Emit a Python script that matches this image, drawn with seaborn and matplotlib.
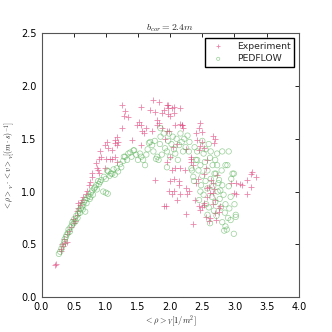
import matplotlib
matplotlib.use('Agg')
import matplotlib.pyplot as plt
import seaborn as sns
import pandas as pd

# Experiment points (density, specific flow)
exp_x = [0.21, 0.23, 0.30, 0.31, 0.33, 0.32, 0.37, 0.40, 0.35, 0.40, 0.43, 0.46, 0.50, 0.52, 0.49,
         0.55, 0.55, 0.57, 0.60, 0.57, 0.62, 0.63, 0.65, 0.69, 0.71, 0.74, 0.76, 0.78, 0.79, 0.86,
         0.88, 0.89, 0.84, 0.89, 0.93, 0.91, 0.99, 1.00, 1.06, 1.09, 1.15, 1.18, 1.02, 0.99, 1.04,
         1.10, 1.15, 1.17, 1.19, 1.15, 1.17, 1.25, 1.28, 1.30, 1.25, 1.35, 1.41, 1.48, 1.51, 1.54,
         1.54, 1.56, 1.59, 1.62, 1.54, 1.69, 1.72, 1.74, 1.77, 1.80, 1.82, 1.82, 1.80, 1.90, 1.96,
         1.96, 1.95, 1.97, 2.06, 2.16, 2.00, 2.06, 1.87, 2.03, 2.08, 2.18, 2.20, 1.95, 1.98, 2.19,
         2.16, 2.47, 2.45, 2.49, 2.66, 2.68, 2.42, 2.50, 2.52, 2.45, 2.47, 2.32, 2.33, 2.32, 2.35,
         1.95, 2.00, 2.08, 2.16, 2.23, 2.03, 2.06, 2.00, 2.13, 2.13, 2.24, 2.29, 2.06, 2.03, 2.16,
         2.26, 2.11, 2.39, 2.52, 2.58, 2.62, 2.60, 2.66, 2.76, 2.78, 2.76, 2.55, 2.62, 2.60, 2.71,
         2.24, 2.36, 1.93, 1.90, 1.98, 1.77, 2.52, 2.63, 2.73, 2.94, 2.57, 2.52, 2.50, 2.45, 2.47,
         3.02, 3.09, 3.20, 3.25, 3.27, 3.33, 3.25, 3.20, 3.12, 3.02, 2.99, 2.66, 2.68, 2.70, 2.66,
         2.69, 2.40, 2.43, 2.55, 2.58, 2.40, 2.70, 1.88, 1.92, 2.10, 2.25, 2.05]
exp_y = [0.30, 0.31, 0.44, 0.46, 0.48, 0.50, 0.51, 0.52, 0.55, 0.60, 0.63, 0.66, 0.70, 0.72, 0.74,
         0.78, 0.82, 0.84, 0.87, 0.89, 0.90, 0.92, 0.95, 0.98, 1.01, 1.06, 1.09, 1.14, 1.18, 1.22,
         1.20, 1.18, 1.27, 1.31, 1.33, 1.38, 1.22, 1.31, 1.31, 1.31, 1.33, 1.28, 1.47, 1.44, 1.41,
         1.39, 1.49, 1.52, 1.47, 1.46, 1.44, 1.60, 1.72, 1.76, 1.82, 1.71, 1.49, 1.63, 1.66, 1.63,
         1.80, 1.57, 1.55, 1.60, 1.44, 1.77, 1.57, 1.87, 1.75, 1.68, 1.65, 1.85, 1.63, 1.77, 1.82,
         1.73, 1.82, 1.79, 1.80, 1.79, 1.72, 1.74, 1.74, 1.79, 1.63, 1.63, 1.60, 1.57, 1.57, 1.63,
         1.64, 1.65, 1.60, 1.56, 1.53, 1.46, 1.49, 1.47, 1.41, 1.39, 1.43, 1.33, 1.31, 1.28, 1.25,
         1.28, 1.33, 1.22, 1.22, 1.20, 1.20, 1.12, 1.10, 1.10, 1.06, 1.03, 1.01, 1.01, 0.98, 0.98,
         0.98, 0.92, 0.92, 0.87, 0.95, 0.99, 1.04, 0.99, 0.84, 0.86, 0.81, 0.76, 0.75, 0.72, 0.73,
         0.79, 0.69, 0.86, 0.86, 1.01, 1.11, 1.17, 1.11, 1.16, 1.08, 1.03, 0.89, 0.85, 0.86, 0.83,
         1.08, 1.07, 1.11, 1.17, 1.19, 1.14, 1.04, 0.98, 1.06, 0.98, 0.99, 1.08, 1.02, 0.92, 0.88,
         0.80, 1.08, 1.12, 1.22, 1.30, 1.55, 1.50, 1.60, 1.50, 1.45, 1.40, 1.42]

# PEDFLOW simulation points
sim_x = [0.27, 0.29, 0.31, 0.33, 0.35, 0.36, 0.38, 0.39, 0.41, 0.42, 0.44, 0.45, 0.47, 0.48, 0.50,
         0.51, 0.53, 0.54, 0.56, 0.57, 0.58, 0.60, 0.61, 0.63, 0.64, 0.65, 0.66, 0.68, 0.68, 0.70,
         0.71, 0.73, 0.75, 0.76, 0.77, 0.79, 0.80, 0.82, 0.83, 0.85, 0.86, 0.88, 0.89, 0.91, 0.93,
         0.96, 1.00, 1.03, 0.97, 1.00, 1.02, 1.04, 1.06, 1.08, 1.10, 1.12, 1.14, 1.17, 1.19, 1.22,
         1.24, 1.27, 1.28, 1.30, 1.33, 1.35, 1.38, 1.40, 1.43, 1.44, 1.47, 1.50, 1.53, 1.55, 1.58,
         1.61, 1.63, 1.65, 1.67, 1.69, 1.72, 1.74, 1.76, 1.78, 1.80, 1.82, 1.84, 1.85, 1.85, 1.87,
         1.90, 1.92, 1.95, 1.95, 1.97, 1.98, 2.00, 2.02, 2.04, 2.06, 2.08, 2.10, 2.12, 2.14, 2.16,
         2.18, 2.20, 2.22, 2.24, 2.27, 2.29, 2.30, 2.33, 2.34, 2.36, 2.37, 2.40, 2.42, 2.42, 2.44,
         2.45, 2.47, 2.47, 2.48, 2.50, 2.52, 2.52, 2.54, 2.55, 2.56, 2.58, 2.58, 2.60, 2.62, 2.63,
         2.63, 2.65, 2.66, 2.67, 2.68, 2.69, 2.70, 2.71, 2.72, 2.73, 2.73, 2.74, 2.75, 2.76, 2.77,
         2.78, 2.79, 2.80, 2.81, 2.81, 2.81, 2.83, 2.84, 2.85, 2.86, 2.86, 2.86, 2.88, 2.89, 2.90,
         2.91, 2.91, 2.92, 2.94, 2.94, 2.95, 2.97, 2.99, 2.99, 3.00, 3.02, 3.02, 2.60, 2.50, 2.38,
         2.55, 2.70, 2.58, 2.62]
sim_y = [0.41, 0.43, 0.46, 0.49, 0.52, 0.55, 0.57, 0.59, 0.61, 0.64, 0.62, 0.66, 0.68, 0.71, 0.70,
         0.74, 0.72, 0.77, 0.75, 0.79, 0.82, 0.80, 0.84, 0.86, 0.83, 0.87, 0.90, 0.81, 0.92, 0.89,
         0.94, 0.96, 0.93, 0.95, 0.99, 1.01, 0.97, 1.03, 1.04, 1.06, 1.02, 1.10, 1.07, 1.09, 1.11,
         1.00, 0.99, 0.98, 1.14, 1.12, 1.20, 1.19, 1.15, 1.17, 1.17, 1.21, 1.16, 1.22, 1.19, 1.26,
         1.23, 1.29, 1.33, 1.33, 1.30, 1.36, 1.37, 1.33, 1.39, 1.39, 1.35, 1.30, 1.36, 1.33, 1.30,
         1.25, 1.35, 1.40, 1.46, 1.47, 1.44, 1.38, 1.48, 1.31, 1.33, 1.30, 1.45, 1.60, 1.52, 1.35,
         1.55, 1.41, 1.38, 1.23, 1.48, 1.55, 1.33, 1.45, 1.52, 1.40, 1.36, 1.50, 1.30, 1.44, 1.55,
         1.47, 1.38, 1.50, 1.42, 1.53, 1.38, 1.47, 1.22, 1.20, 1.14, 1.10, 1.30, 1.38, 1.30, 1.20,
         0.92, 1.25, 1.00, 1.06, 1.15, 1.36, 0.97, 1.28, 1.10, 0.88, 1.20, 1.03, 0.85, 1.32, 1.38,
         1.12, 0.95, 1.25, 1.05, 0.82, 1.17, 0.90, 1.17, 0.77, 1.36, 1.25, 1.00, 1.08, 1.11, 0.93,
         1.01, 0.85, 1.20, 1.38, 1.06, 0.71, 0.97, 0.63, 0.80, 1.25, 0.88, 0.67, 0.64, 1.25, 0.75,
         1.38, 1.05, 0.84, 0.95, 0.73, 1.12, 1.17, 1.17, 0.60, 0.88, 0.78, 0.76, 1.45, 1.48, 1.42,
         1.40, 1.30, 0.78, 0.70]

exp_df = pd.DataFrame({'rho': exp_x, 'flow': exp_y})
sim_df = pd.DataFrame({'rho': sim_x, 'flow': sim_y})

sns.set_style('white')
plt.rcParams['font.family'] = ['DejaVu Sans']
plt.rcParams['mathtext.fontset'] = 'cm'
plt.rcParams['xtick.direction'] = 'in'
plt.rcParams['ytick.direction'] = 'in'
plt.rcParams['xtick.top'] = True
plt.rcParams['ytick.right'] = True

fig, ax = plt.subplots(figsize=(3.32, 3.32), dpi=100)

sns.scatterplot(data=exp_df, x='rho', y='flow', marker='+', color='#e0457b', s=20,
                linewidth=0.6, alpha=0.65, label='Experiment', ax=ax)
sns.scatterplot(data=sim_df, x='rho', y='flow', marker='o', color='#55b055', facecolor='none',
                edgecolor='#55b055', s=15, linewidth=0.5, alpha=0.6, label='PEDFLOW', ax=ax)

ax.set_xlim(0, 4)
ax.set_ylim(0, 2.5)
ax.set_xticks([0.0, 0.5, 1.0, 1.5, 2.0, 2.5, 3.0, 3.5, 4.0])
ax.set_yticks([0.0, 0.5, 1.0, 1.5, 2.0, 2.5])
ax.tick_params(labelsize=7, length=3, width=0.6, colors='black')
for sp in ax.spines.values():
    sp.set_color('#555555')
    sp.set_linewidth(0.8)

ax.set_title(r'$b_{cor}=2.4m$', fontsize=7, pad=2)
ax.set_xlabel(r'$<\rho>_V[1/m^2]$', fontsize=6, labelpad=1)
ax.set_ylabel(r'$<\rho>_V\cdot<v>_V[(m\cdot s)^{-1}]$', fontsize=5.5, labelpad=2)

ax.legend(loc='upper right', scatterpoints=1, fontsize=6.7, fancybox=False, edgecolor='black',
          framealpha=1, borderpad=0.4, handletextpad=1.0, markerscale=0.6, labelspacing=0.4)

fig.subplots_adjust(left=0.125, right=0.9, bottom=0.105, top=0.9)
fig.savefig('out.png', dpi=100)
